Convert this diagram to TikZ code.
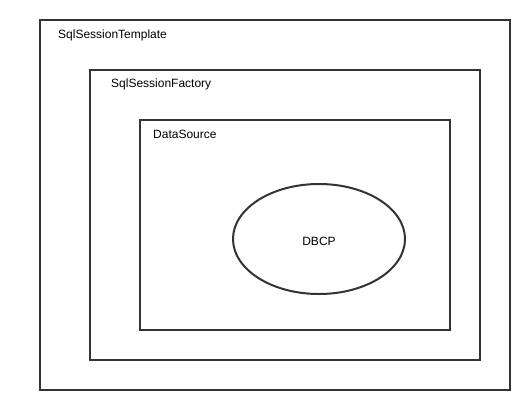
\documentclass[tikz,border=0pt]{standalone}
\usepackage{fontspec}
\setmainfont{Liberation Sans}
\usetikzlibrary{shapes.geometric}
\definecolor{stroke}{HTML}{333333}
\begin{document}
\begin{tikzpicture}[x=1pt,y=-1pt,
  box/.style={draw=stroke,line width=2pt,fill=none},
  lbl/.style={anchor=west,inner sep=0pt,font=\fontsize{12}{14}\selectfont,text=black}]
\useasboundingbox (0,0) rectangle (530,410);
\draw[box] (40,20) rectangle (510,390);
\draw[box] (90,70) rectangle (480,360);
\draw[box] (140,120) rectangle (450,330);
\node[draw=stroke,line width=2pt,ellipse,minimum width=172pt,minimum height=110pt,inner sep=0pt] (dbcp) at (319,239) {};
\node[inner sep=0pt,font=\fontsize{12}{14}\selectfont] (dbcpl) at (319,241) {DBCP};
\node[lbl] (tpl) at (58,35.5) {SqlSessionTemplate};
\node[lbl] (fac) at (111,84.5) {SqlSessionFactory};
\node[lbl] (ds) at (153,134.5) {DataSource};
\end{tikzpicture}
\end{document}
